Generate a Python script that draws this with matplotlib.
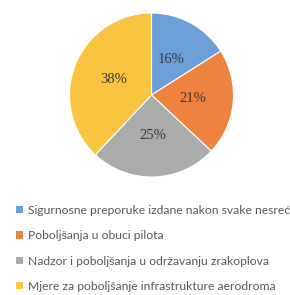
import matplotlib.pyplot as plt
from matplotlib.patches import Patch

# Data
categories = [
    'Sigurnosne preporuke izdane nakon svake nesreće',
    'Poboljšanja u obuci pilota',
    'Nadzor i poboljšanja u održavanju zrakoplova',
    'Mjere za poboljšanje infrastrukture aerodroma',
]
shares = [16, 21, 25, 38]
colors = ['#6A9FD8', '#EE8340', '#ABABAB', '#F9C440']

W, H = 290, 295
fig = plt.figure(figsize=(W / 100, H / 100), dpi=100)

# pie axes (center ~ (151, 95) px, radius ~ 82 px)
cx, cy, r = 151.5, 95, 82
ax = fig.add_axes([(cx - r) / W, 1 - (cy + r) / H, 2 * r / W, 2 * r / H])
wedges, texts, autotexts = ax.pie(
    shares, colors=colors, startangle=90, counterclock=False,
    autopct=lambda p: f'{p:.0f}%', pctdistance=0.5,
    wedgeprops=dict(edgecolor='white', linewidth=0.8),
    textprops=dict(family='Liberation Serif', fontsize=10.5, color='#3A3A3A'))
ax.set_xlim(-1, 1)
ax.set_ylim(-1, 1)
ax.set_aspect('equal')

# legend below the pie
handles = [Patch(facecolor=c, edgecolor='none') for c in colors]
fig.legend(handles, categories, loc='upper left',
           bbox_to_anchor=(16 / W, 1 - 205 / H), frameon=False,
           prop=dict(family='Lato', size=8.7), labelcolor='#595959',
           handlelength=0.55, handleheight=0.55, handletextpad=0.45,
           labelspacing=1.18, borderpad=0, borderaxespad=0)

fig.savefig('out.png', dpi=100)
